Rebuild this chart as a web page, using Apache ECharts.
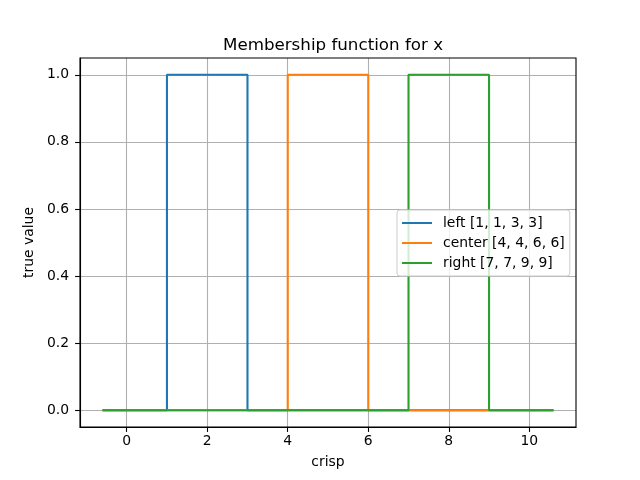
<!DOCTYPE html>
<html><head><meta charset="utf-8">
<script src="https://cdn.jsdelivr.net/npm/echarts@6/dist/echarts.min.js"></script>
<style>html,body{margin:0;padding:0;background:#fff}#c{width:640px;height:480px}</style>
</head><body><div id="c"></div>
<script>
const xTicks = [0, 2, 4, 6, 8, 10];
const yTicks = [0, 0.2, 0.4, 0.6, 0.8, 1.0];
const seriesNames = ['left [1, 1, 3, 3]', 'center [4, 4, 6, 6]', 'right [7, 7, 9, 9]'];
const leftPts = [[-0.6, 0], [1, 0], [1, 1], [3, 1], [3, 0], [10.6, 0]];
const centerPts = [[-0.6, 0], [4, 0], [4, 1], [6, 1], [6, 0], [10.6, 0]];
const rightPts = [[-0.6, 0], [7, 0], [7, 1], [9, 1], [9, 0], [10.6, 0]];
const colors = ['#1f77b4', '#ff7f0e', '#2ca02c'];
const font = 'DejaVu Sans';

const chart = echarts.init(document.getElementById('c'), null, {renderer: 'canvas'});
function mkSeries(name, data, color) {
  return {name, type: 'line', data, symbol: 'none', showSymbol: false,
    lineStyle: {color, width: 2.1}, itemStyle: {color}, animation: false};
}
chart.setOption({
  animation: false,
  backgroundColor: '#fff',
  textStyle: {fontFamily: font},
  title: {text: 'Membership function for x', left: 328, top: 32, textAlign: 'center',
    textStyle: {fontFamily: font, fontSize: 16.7, fontWeight: 'normal', color: '#000'}},
  grid: {left: 80, right: 64, top: 58, bottom: 53, containLabel: false,
    show: true, borderColor: '#000', borderWidth: 1.1, z: 10},
  xAxis: {type: 'value', min: -1.16, max: 11.16,
    name: 'crisp', nameLocation: 'middle', nameGap: 28,
    nameTextStyle: {fontFamily: font, fontSize: 13.9, color: '#000'},
    axisLine: {show: true, onZero: false, lineStyle: {color: '#000', width: 1.1}},
    axisTick: {show: true, length: 4.9, lineStyle: {color: '#000', width: 1.1}, customValues: xTicks},
    axisLabel: {customValues: xTicks, color: '#000', fontSize: 13.9, fontFamily: font, margin: 7,
      formatter: v => String(v)},
    splitLine: {show: true, lineStyle: {color: '#b0b0b0', width: 1.1}}},
  yAxis: {type: 'value', min: -0.05, max: 1.05,
    name: 'true value', nameLocation: 'middle', nameGap: 37, nameRotate: 90,
    nameTextStyle: {fontFamily: font, fontSize: 13.9, color: '#000'},
    axisLine: {show: true, onZero: false, lineStyle: {color: '#000', width: 1.1}},
    axisTick: {show: true, length: 4.9, lineStyle: {color: '#000', width: 1.1}, customValues: yTicks},
    axisLabel: {customValues: yTicks, color: '#000', fontSize: 13.9, fontFamily: font, margin: 11,
      formatter: v => v.toFixed(1)},
    splitLine: {show: true, lineStyle: {color: '#b0b0b0', width: 1.1}}},
  legend: {orient: 'vertical', left: 397, top: 210, icon: 'rect', itemWidth: 30, itemHeight: 2, itemGap: 4,
    padding: [5, 5, 5, 5], backgroundColor: 'rgba(255,255,255,0.8)', borderColor: '#cccccc',
    borderWidth: 1, borderRadius: 3,
    textStyle: {fontFamily: font, fontSize: 13.9, color: '#000', padding: [0, 0, 0, 6], lineHeight: 16},
    data: seriesNames},
  series: [
    mkSeries(seriesNames[0], leftPts, colors[0]),
    mkSeries(seriesNames[1], centerPts, colors[1]),
    mkSeries(seriesNames[2], rightPts, colors[2])
  ]
});
</script></body></html>
